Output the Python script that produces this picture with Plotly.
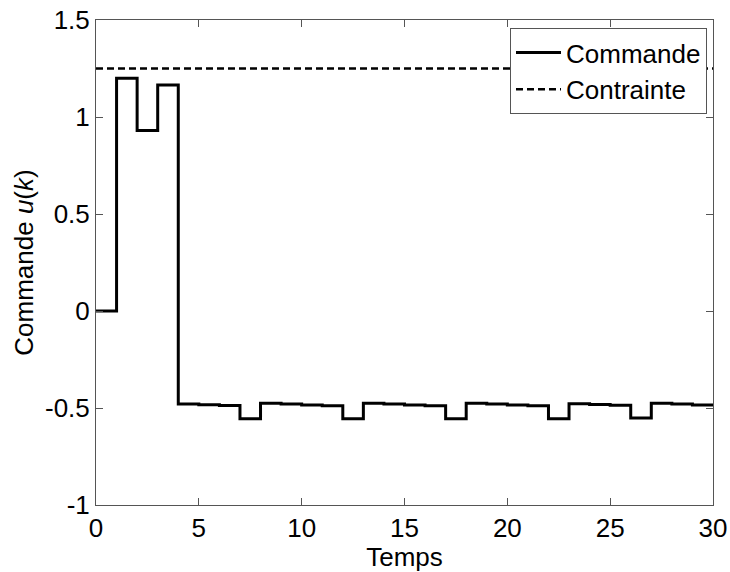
import plotly.graph_objects as go

k = list(range(0, 31))
u = [0.0, 1.2, 0.93, 1.165,
     -0.48, -0.483, -0.487,
     -0.555,
     -0.476, -0.479, -0.484, -0.488,
     -0.555,
     -0.476, -0.479, -0.484, -0.488,
     -0.555,
     -0.476, -0.479, -0.484, -0.488,
     -0.555,
     -0.478, -0.482, -0.486,
     -0.552,
     -0.476, -0.48, -0.484, -0.49]
constraint = 1.25
xticks = [0, 5, 10, 15, 20, 25, 30]
yticks = [-1, -0.5, 0, 0.5, 1, 1.5]
yticklabels = ["-1", "-0.5", "0", "0.5", "1", "1.5"]

font = "Liberation Sans, Arial, sans-serif"

fig = go.Figure()
fig.add_trace(go.Scatter(x=k, y=u, mode="lines", line=dict(color="black", width=3, shape="hv"),
                         name="Commande"))
fig.add_trace(go.Scatter(x=[k[0], k[-1]], y=[constraint, constraint], mode="lines",
                         line=dict(color="black", width=2.5, dash="7px,4px"), name="Contrainte"))

axis_common = dict(showline=True, linecolor="#555555", linewidth=1, mirror="ticks",
                   ticks="inside", ticklen=7, tickcolor="#555555", showgrid=False,
                   zeroline=False, automargin=False,
                   tickfont=dict(family=font, size=26, color="black"))

fig.update_layout(
    width=730, height=572,
    margin=dict(l=96, r=17, t=20, b=67),
    plot_bgcolor="white", paper_bgcolor="white",
    font=dict(family=font, size=26, color="black"),
    showlegend=True,
    legend=dict(x=1 - 6 / 617, y=1 - 8 / 485, xanchor="right", yanchor="top",
                bordercolor="#555555", borderwidth=1, bgcolor="white",
                font=dict(family=font, size=26, color="black"),
                tracegroupgap=0, itemwidth=45),
    xaxis=dict(range=[0, 30], tickvals=xticks, **axis_common,
               title=dict(text="Temps", font=dict(family=font, size=26), standoff=0)),
    yaxis=dict(range=[-1, 1.5], tickvals=yticks, ticktext=yticklabels, **axis_common,
               title=dict(text="Commande <i>u</i>(<i>k</i>)", font=dict(family=font, size=26), standoff=3)),
)

fig.write_html("out.html")
